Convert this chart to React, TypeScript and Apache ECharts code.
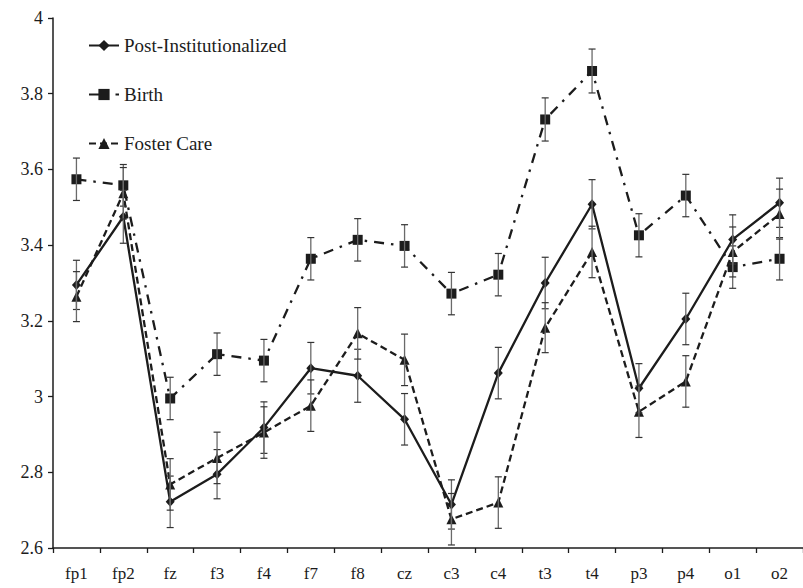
import React, { useEffect, useRef } from "react";
import * as echarts from "echarts";

const categories = ["fp1", "fp2", "fz", "f3", "f4", "f7", "f8", "cz", "c3", "c4", "t3", "t4", "p3", "p4", "o1", "o2"];

const postInst = [3.295, 3.475, 2.722, 2.795, 2.918, 3.075, 3.055, 2.94, 2.715, 3.062, 3.3, 3.508, 3.022, 3.205, 3.415, 3.512];
const postInstErr = [0.065, 0.07, 0.068, 0.065, 0.068, 0.068, 0.07, 0.068, 0.065, 0.068, 0.068, 0.065, 0.065, 0.068, 0.065, 0.065];

const birth = [3.574, 3.558, 2.995, 3.112, 3.095, 3.364, 3.414, 3.398, 3.272, 3.322, 3.732, 3.86, 3.426, 3.531, 3.342, 3.364];
const birthErr = [0.056, 0.055, 0.056, 0.056, 0.056, 0.056, 0.056, 0.056, 0.056, 0.056, 0.057, 0.058, 0.057, 0.056, 0.056, 0.056];

const fosterCare = [3.264, 3.537, 2.768, 2.838, 2.905, 2.976, 3.167, 3.097, 2.676, 2.72, 3.182, 3.382, 2.96, 3.04, 3.382, 3.482];
const fosterCareErr = [0.066, 0.068, 0.068, 0.068, 0.068, 0.068, 0.068, 0.068, 0.068, 0.068, 0.066, 0.068, 0.068, 0.068, 0.066, 0.066];

const seriesNames = ["Post-Institutionalized", "Birth", "Foster Care"];

const FONT = "Liberation Serif";
const INK = "#1c1c1c";

function errData(vals: number[], errs: number[]) {
  return vals.map((v, i) => [i, v - errs[i], v + errs[i]]);
}

function errorSeries(vals: number[], errs: number[]) {
  return {
    type: "custom",
    silent: true,
    z: 5,
    encode: { x: 0, y: [1, 2] },
    data: errData(vals, errs),
    renderItem: (params: any, api: any) => {
      const x = api.value(0);
      const lo = api.coord([x, api.value(1)]);
      const hi = api.coord([x, api.value(2)]);
      const w = 3.5;
      return {
        type: "group",
        children: [
          { type: "line", shape: { x1: lo[0], y1: lo[1], x2: hi[0], y2: hi[1] }, style: { stroke: "#6a6a6a", lineWidth: 1.3 } },
          { type: "line", shape: { x1: lo[0] - w, y1: lo[1], x2: lo[0] + w, y2: lo[1] }, style: { stroke: "#333", lineWidth: 1.2 } },
          { type: "line", shape: { x1: hi[0] - w, y1: hi[1], x2: hi[0] + w, y2: hi[1] }, style: { stroke: "#333", lineWidth: 1.2 } },
        ],
      };
    },
  };
}

export default function App() {
  const ref = useRef<HTMLDivElement>(null);
  useEffect(() => {
    document.body.style.margin = "0";
    const chart = echarts.init(ref.current!, null, { renderer: "svg" });
    chart.setOption({
      animation: false,
      backgroundColor: "#ffffff",
      legend: {
        orient: "vertical",
        left: 83,
        top: 31,
        itemWidth: 30,
        itemHeight: 14,
        itemGap: 30,
        data: seriesNames,
        textStyle: { fontFamily: FONT, fontSize: 19, color: INK },
        itemStyle: { color: INK },
      },
      grid: { left: 53, top: 18, width: 759, bottom: 40 },
      xAxis: {
        type: "category",
        data: categories,
        boundaryGap: true,
        axisLine: { lineStyle: { color: INK, width: 1.5 } },
        axisTick: { show: true, length: 5, inside: false, lineStyle: { color: INK, width: 1.3 } },
        axisLabel: { fontFamily: FONT, fontSize: 17, color: INK, margin: 17 },
      },
      yAxis: {
        type: "value",
        min: 2.6,
        max: 4,
        interval: 0.2,
        splitLine: { show: false },
        axisLine: { show: true, lineStyle: { color: INK, width: 1.5 } },
        axisTick: { show: true, length: 5, lineStyle: { color: INK, width: 1.3 } },
        axisLabel: { fontFamily: FONT, fontSize: 18, color: INK, margin: 10 },
      },
      series: [
        errorSeries(postInst, postInstErr),
        errorSeries(birth, birthErr),
        errorSeries(fosterCare, fosterCareErr),
        {
          name: seriesNames[0],
          type: "line",
          data: postInst,
          z: 4,
          symbol: "diamond",
          symbolSize: [9, 10],
          itemStyle: { color: INK },
          lineStyle: { color: INK, width: 2.3, type: "solid" },
        },
        {
          name: seriesNames[1],
          type: "line",
          data: birth,
          z: 4,
          symbol: "rect",
          symbolSize: 10,
          itemStyle: { color: INK },
          lineStyle: { color: INK, width: 2.3, type: [10, 7, 2.5, 7] },
        },
        {
          name: seriesNames[2],
          type: "line",
          data: fosterCare,
          z: 4,
          symbol: "triangle",
          symbolSize: [10, 10],
          itemStyle: { color: INK },
          lineStyle: { color: INK, width: 2.3, type: [7, 4] },
        },
      ],
    });
    return () => chart.dispose();
  }, []);
  return <div ref={ref} style={{ width: 803, height: 588 }} />;
}
